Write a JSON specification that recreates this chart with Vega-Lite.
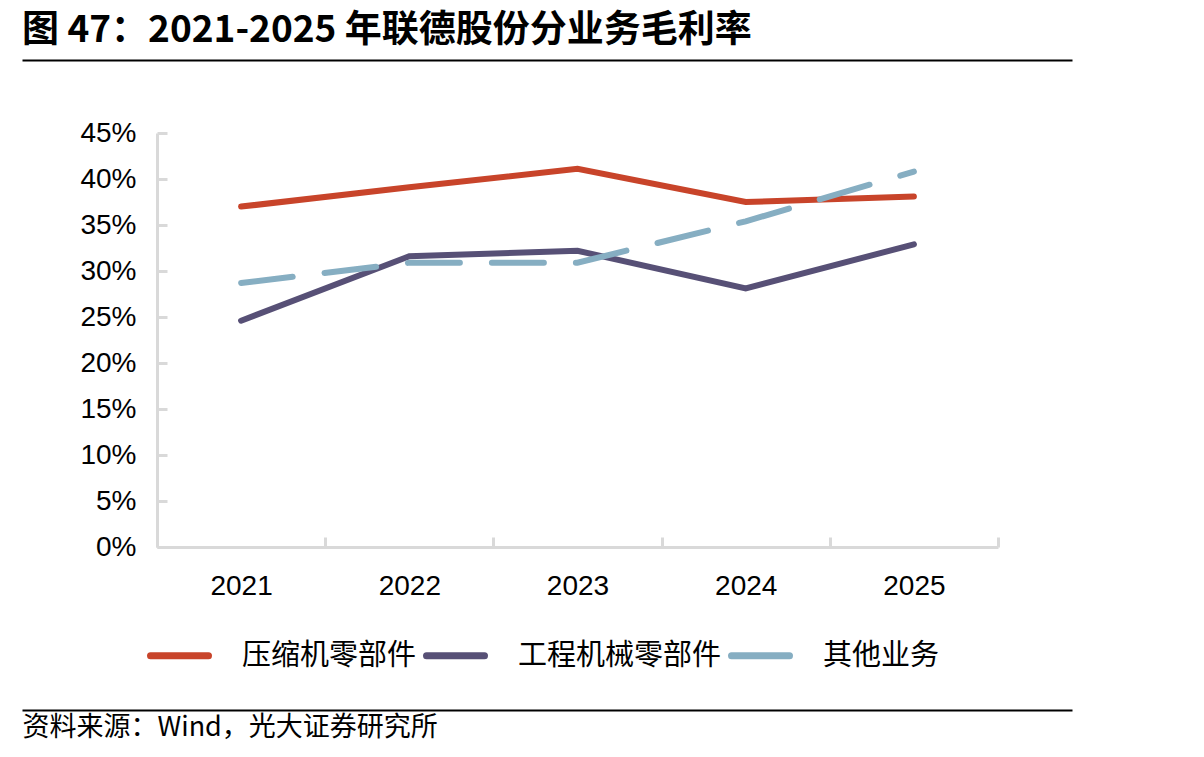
{
  "$schema": "https://vega.github.io/schema/vega-lite/v6.json",
  "width": 841,
  "height": 414,
  "autosize": {"type": "none"},
  "padding": {"left": 157, "top": 133, "right": 206, "bottom": 210},
  "background": "white",
  "title": {
    "text": "图 47：2021-2025 年联德股份分业务毛利率",
    "anchor": "start",
    "frame": "bounds",
    "font": "Noto Sans CJK SC",
    "fontSize": 37,
    "fontWeight": "bold",
    "color": "#000000",
    "offset": 10
  },
  "data": {
    "values": [
      {"year": "2021", "series": "压缩机零部件", "value": 0.370},
      {"year": "2022", "series": "压缩机零部件", "value": 0.391},
      {"year": "2023", "series": "压缩机零部件", "value": 0.411},
      {"year": "2024", "series": "压缩机零部件", "value": 0.375},
      {"year": "2025", "series": "压缩机零部件", "value": 0.381},
      {"year": "2021", "series": "工程机械零部件", "value": 0.246},
      {"year": "2022", "series": "工程机械零部件", "value": 0.316},
      {"year": "2023", "series": "工程机械零部件", "value": 0.322},
      {"year": "2024", "series": "工程机械零部件", "value": 0.281},
      {"year": "2025", "series": "工程机械零部件", "value": 0.329},
      {"year": "2021", "series": "其他业务", "value": 0.287},
      {"year": "2022", "series": "其他业务", "value": 0.309},
      {"year": "2023", "series": "其他业务", "value": 0.309},
      {"year": "2024", "series": "其他业务", "value": 0.354},
      {"year": "2025", "series": "其他业务", "value": 0.408}
    ]
  },
  "layer": [
    {
      "transform": [{"filter": "datum.series !== '其他业务'"}],
      "mark": {"type": "line", "strokeWidth": 6, "strokeCap": "round"},
      "encoding": {
        "x": {
          "field": "year",
          "type": "ordinal",
          "scale": {"type": "band", "paddingInner": 0, "paddingOuter": 0, "domain": ["2021", "2022", "2023", "2024", "2025"]},
          "axis": {
            "title": null,
            "labelAngle": 0,
            "labelFont": "Liberation Sans",
            "labelFontSize": 28,
            "labelColor": "#000000",
            "labelPadding": 35,
            "domainColor": "#D9D9D9",
            "domainWidth": 3,
            "tickColor": "#D9D9D9",
            "tickWidth": 3,
            "tickSize": -10,
            "tickBand": "extent",
            "grid": false
          }
        },
        "y": {
          "field": "value",
          "type": "quantitative",
          "scale": {"domain": [0, 0.45], "nice": false, "zero": true},
          "axis": {
            "title": null,
            "values": [0, 0.05, 0.1, 0.15, 0.2, 0.25, 0.3, 0.35, 0.4, 0.45],
            "format": ".0%",
            "labelFont": "Liberation Sans",
            "labelFontSize": 28,
            "labelColor": "#000000",
            "labelPadding": 31,
            "domainColor": "#D9D9D9",
            "domainWidth": 3,
            "tickColor": "#D9D9D9",
            "tickWidth": 3,
            "tickSize": -10,
            "grid": false
          }
        },
        "color": {
          "field": "series",
          "type": "nominal",
          "scale": {
            "domain": ["压缩机零部件", "工程机械零部件", "其他业务"],
            "range": ["#C8442A", "#575076", "#86AEC2"]
          },
          "legend": {
            "title": null,
            "encode": {"symbols": {"update": {"strokeCap": {"value": "round"}}}}
          }
        }
      }
    },
    {
      "transform": [{"filter": "datum.series === '其他业务'"}],
      "mark": {"type": "line", "strokeWidth": 6, "strokeCap": "round", "strokeDash": [52, 32]},
      "encoding": {
        "x": {
          "field": "year",
          "type": "ordinal",
          "scale": {"type": "band", "paddingInner": 0, "paddingOuter": 0, "domain": ["2021", "2022", "2023", "2024", "2025"]},
          "axis": null
        },
        "y": {"field": "value", "type": "quantitative"},
        "color": {"field": "series", "type": "nominal"}
      }
    },
    {
      "mark": {"type": "rule", "opacity": 0},
      "encoding": {
        "x": {
          "datum": 0,
          "type": "quantitative",
          "scale": {"domain": [0, 1], "range": [-135, 915]},
          "axis": {
            "orient": "top",
            "offset": 73,
            "domain": true,
            "domainColor": "#000000",
            "domainWidth": 2,
            "ticks": false,
            "labels": false,
            "grid": false,
            "title": null
          }
        }
      }
    },
    {
      "mark": {"type": "rule", "opacity": 0},
      "encoding": {
        "x": {
          "datum": 0,
          "type": "quantitative",
          "scale": {"domain": [0, 1], "range": [-135, 915]},
          "axis": {
            "orient": "bottom",
            "offset": 163,
            "domain": true,
            "domainColor": "#000000",
            "domainWidth": 2,
            "ticks": false,
            "labels": false,
            "grid": false,
            "title": "资料来源：Wind，光大证券研究所",
            "titleFont": "Noto Sans CJK SC",
            "titleFontSize": 27,
            "titleFontWeight": "normal",
            "titleColor": "#000000",
            "titleAnchor": "start",
            "titleAlign": "left",
            "titlePadding": 4
          }
        }
      }
    }
  ],
  "resolve": {"scale": {"x": "independent"}, "axis": {"x": "independent"}},
  "config": {
    "view": {"stroke": null},
    "legend": {
      "orient": "none",
      "legendX": -10,
      "legendY": 490,
      "direction": "horizontal",
      "symbolType": "stroke",
      "symbolSize": 3364,
      "symbolStrokeWidth": 7,
      "labelFont": "Noto Sans CJK SC",
      "labelFontSize": 29,
      "labelColor": "#000000",
      "labelOffset": 30,
      "columnPadding": -5,
      "labelLimit": 400
    }
  }
}
